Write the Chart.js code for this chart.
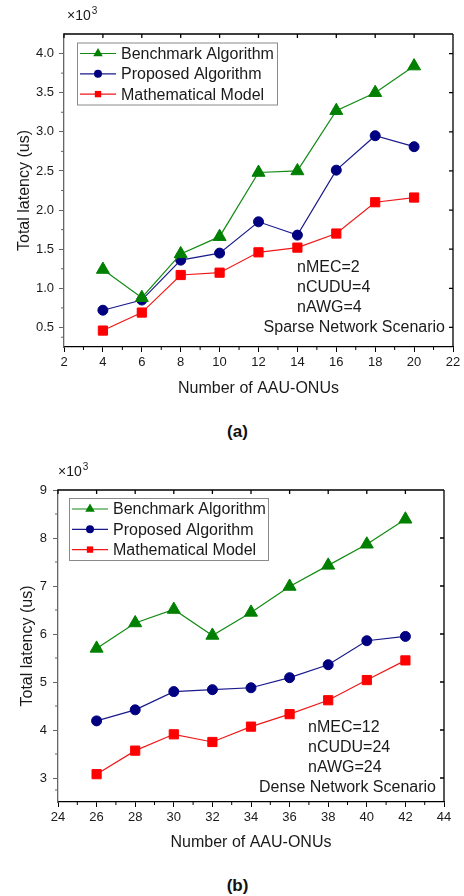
<!DOCTYPE html>
<html lang="en">
<head>
<meta charset="UTF-8">
<title>Total latency vs number of AAU-ONUs</title>
<script src="https://cdn.jsdelivr.net/npm/chart.js"></script>
<style>
  body, html {
    margin: 0;
    padding: 0;
    background: #fff;
    font-family: "Liberation Sans", Arial, sans-serif;
    width: 464px;
    height: 896px;
    overflow: hidden;
  }
  .wrap { position: absolute; left: 0; width: 464px; }
  canvas { display: block; }
  .cap {
    position: absolute;
    left: 0;
    width: 475px;
    text-align: center;
    font-weight: bold;
    font-size: 17px;
    color: #111;
  }
</style>
</head>
<body>
<div class="wrap" style="top:0"><canvas id="chartA" width="464" height="420"></canvas></div>
<div class="cap" style="top:422px">(a)</div>
<div class="wrap" style="top:450px"><canvas id="chartB" width="464" height="420"></canvas></div>
<div class="cap" style="top:876px">(b)</div>

<script>
  // ---- data (latency in units of 10^3 us) ----
  const seriesNames = ['Benchmark Algorithm', 'Proposed Algorithm', 'Mathematical Model'];

  // (a) sparse network
  const onusA = [4, 6, 8, 10, 12, 14, 16, 18, 20];
  const benchA = [1.24, 0.88, 1.44, 1.66, 2.48, 2.50, 3.27, 3.50, 3.84];
  const propA = [0.72, 0.85, 1.36, 1.45, 1.85, 1.68, 2.51, 2.95, 2.81];
  const mathA = [0.46, 0.69, 1.17, 1.20, 1.46, 1.52, 1.70, 2.10, 2.16];
  const xTicksA = [2, 4, 6, 8, 10, 12, 14, 16, 18, 20, 22];
  const yTicksA = [0.5, 1.0, 1.5, 2.0, 2.5, 3.0, 3.5, 4.0];
  const notesA = ['nMEC=2', 'nCUDU=4', 'nAWG=4', 'Sparse Network Scenario'];

  // (b) dense network
  const onusB = [26, 28, 30, 32, 34, 36, 38, 40, 42];
  const benchB = [5.70, 6.23, 6.51, 5.97, 6.45, 6.99, 7.43, 7.87, 8.39];
  const propB = [4.19, 4.42, 4.80, 4.84, 4.88, 5.09, 5.36, 5.86, 5.95];
  const mathB = [3.08, 3.57, 3.91, 3.75, 4.07, 4.33, 4.62, 5.04, 5.45];
  const xTicksB = [24, 26, 28, 30, 32, 34, 36, 38, 40, 42, 44];
  const yTicksB = [3, 4, 5, 6, 7, 8, 9];
  const notesB = ['nMEC=12', 'nCUDU=24', 'nAWG=24', 'Dense Network Scenario'];

  const styles = [
    { color: '#008000', line: '#128a12', point: 'triangle', r: 7.5, lr: 5.5 },
    { color: '#000080', line: '#1a1a8c', point: 'circle', r: 5, lr: 4 },
    { color: '#ff0000', line: '#f01818', point: 'rect', r: 6.5, lr: 4.5 }
  ];

  const FONT = '"Liberation Sans", Arial, sans-serif';
  const TXT = '#1a1a1a';

  function midpoints(arr) {
    const out = [];
    for (let i = 0; i < arr.length - 1; i++) out.push((arr[i] + arr[i + 1]) / 2);
    return out;
  }

  function marker(ctx, style, x, y, r) {
    ctx.beginPath();
    if (style === 'triangle') {
      ctx.moveTo(x, y - r);
      ctx.lineTo(x + r * 0.866, y + r * 0.5);
      ctx.lineTo(x - r * 0.866, y + r * 0.5);
      ctx.closePath();
    } else if (style === 'circle') {
      ctx.arc(x, y, r, 0, Math.PI * 2);
    } else {
      const s = r * 0.707;
      ctx.rect(x - s, y - s, 2 * s, 2 * s);
    }
    ctx.fill();
  }

  // frame, minor ticks, legend box, notes and x10^3 label
  const framePlugin = {
    id: 'frame',
    afterDraw(chart, args, o) {
      const ctx = chart.ctx;
      const { left, right, top, bottom } = chart.chartArea;
      const xs = chart.scales.x, ys = chart.scales.y;
      ctx.save();

      // top + right axes with inward ticks
      ctx.strokeStyle = '#000';
      ctx.lineWidth = 1.3;
      ctx.beginPath();
      ctx.moveTo(left, top); ctx.lineTo(right, top);
      ctx.moveTo(right, top); ctx.lineTo(right, bottom);
      o.xTicks.forEach(v => {
        const px = xs.getPixelForValue(v);
        ctx.moveTo(px, top); ctx.lineTo(px, top + 4);
      });
      o.yTicks.forEach(v => {
        const py = ys.getPixelForValue(v);
        ctx.moveTo(right, py); ctx.lineTo(right - 4, py);
      });
      ctx.stroke();

      // minor ticks (outward) on bottom and left
      ctx.lineWidth = 1;
      ctx.beginPath();
      midpoints(o.xTicks).forEach(v => {
        const px = xs.getPixelForValue(v);
        ctx.moveTo(px, bottom); ctx.lineTo(px, bottom + 3);
      });
      ctx.stroke();
      ctx.strokeStyle = '#666';
      ctx.beginPath();
      midpoints([o.yMin].concat(o.yTicks)).forEach(v => {
        const py = ys.getPixelForValue(v);
        ctx.moveTo(left, py); ctx.lineTo(left - 3, py);
      });
      ctx.stroke();

      // x10^3
      ctx.fillStyle = TXT;
      ctx.textBaseline = 'middle';
      ctx.textAlign = 'left';
      ctx.font = '14px ' + FONT;
      ctx.fillText('\u00d710', left + o.expDx, top + o.expDy);
      const w = ctx.measureText('\u00d710').width;
      ctx.font = '10px ' + FONT;
      ctx.fillText('3', left + o.expDx + w + 1, top + o.expDy - 5);

      // legend
      const lx = left + o.legDx, ly = top + o.legDy;
      ctx.fillStyle = '#fff';
      ctx.fillRect(lx, ly, o.legW, 62);
      ctx.strokeStyle = '#8a8a8a';
      ctx.lineWidth = 1;
      ctx.strokeRect(lx + 0.5, ly + 0.5, o.legW, 62);
      ctx.font = '16px ' + FONT;
      chart.data.datasets.forEach((ds, i) => {
        const st = styles[i];
        const cy = ly + 11 + i * 20.3;
        ctx.strokeStyle = st.line;
        ctx.lineWidth = 1.2;
        ctx.beginPath();
        ctx.moveTo(lx + 3, cy); ctx.lineTo(lx + 39, cy);
        ctx.stroke();
        ctx.fillStyle = st.color;
        marker(ctx, st.point, lx + 21, cy, st.lr);
        ctx.fillStyle = TXT;
        ctx.fillText(ds.label, lx + 44, cy + 1);
      });

      // scenario notes
      ctx.font = '16px ' + FONT;
      ctx.fillStyle = TXT;
      o.notes.forEach((t, i) => {
        const cy = bottom - o.noteBottom + i * 19.8;
        if (i < o.notes.length - 1) {
          ctx.textAlign = 'left';
          ctx.fillText(t, right - o.noteDx, cy);
        } else {
          ctx.textAlign = 'right';
          ctx.fillText(t, right - 8, cy);
        }
      });
      ctx.restore();
    }
  };

  function makeChart(id, xs, sets, xTicks, yTicks, lim, lay) {
    const ctx = document.getElementById(id).getContext('2d');
    return new Chart(ctx, {
      type: 'line',
      data: {
        datasets: sets.map((vals, i) => ({
          label: seriesNames[i],
          data: xs.map((x, k) => ({ x: x, y: vals[k] })),
          borderColor: styles[i].line,
          backgroundColor: styles[i].color,
          pointBackgroundColor: styles[i].color,
          pointBorderColor: styles[i].color,
          pointStyle: styles[i].point,
          pointRadius: styles[i].r,
          pointHoverRadius: styles[i].r,
          pointBorderWidth: 1,
          borderWidth: 1.2,
          tension: 0,
          fill: false
        }))
      },
      options: {
        responsive: false,
        animation: false,
        devicePixelRatio: 1,
        layout: { padding: { top: lay.top, right: lay.right, left: 0, bottom: 0 } },
        scales: {
          x: {
            type: 'linear',
            min: lim.xMin,
            max: lim.xMax,
            afterBuildTicks: s => { s.ticks = xTicks.map(v => ({ value: v })); },
            afterFit: s => { s.height = lay.xH; },
            border: { color: '#000', width: 1.3 },
            grid: { drawOnChartArea: false, drawTicks: true, tickLength: 5, color: '#000' },
            ticks: { color: TXT, font: { family: FONT, size: 13 }, padding: 3, maxRotation: 0 },
            title: {
              display: true, text: 'Number of AAU-ONUs', color: TXT,
              font: { family: FONT, size: 16 }, padding: { top: 0, bottom: lay.xTitlePad }
            }
          },
          y: {
            type: 'linear',
            min: lim.yMin,
            max: lim.yMax,
            afterBuildTicks: s => { s.ticks = yTicks.map(v => ({ value: v })); },
            afterFit: s => { s.width = lay.yW; },
            border: { color: '#666', width: 1.3 },
            grid: { drawOnChartArea: false, drawTicks: true, tickLength: 5, color: '#666' },
            ticks: {
              color: TXT, font: { family: FONT, size: 13 }, padding: lay.yTickPad,
              callback: v => v.toFixed(lim.dec)
            },
            title: {
              display: true, text: 'Total latency (us)', color: TXT,
              font: { family: FONT, size: 16 }, padding: { top: lay.yTitlePad, bottom: 0 }
            }
          }
        },
        plugins: {
          legend: { display: false },
          tooltip: { enabled: false },
          frame: lay.frame
        }
      },
      plugins: [framePlugin]
    });
  }

  makeChart('chartA', onusA, [benchA, propA, mathA], xTicksA, yTicksA,
    { xMin: 2, xMax: 22, yMin: 0.25, yMax: 4.25, dec: 1 },
    {
      top: 34, right: 11, xH: 73, yW: 64, xTitlePad: 22, yTitlePad: 15, yTickPad: 5,
      frame: {
        xTicks: xTicksA, yTicks: yTicksA, yMin: 0.25, notes: notesA,
        expDx: 3, expDy: -18, legDx: 13, legDy: 8.5, legW: 200,
        noteDx: 156, noteBottom: 79.3
      }
    });

  makeChart('chartB', onusB, [benchB, propB, mathB], xTicksB, yTicksB,
    { xMin: 24, xMax: 44, yMin: 2.5, yMax: 9, dec: 0 },
    {
      top: 40, right: 20, xH: 68, yW: 58, xTitlePad: 18, yTitlePad: 18, yTickPad: 6,
      frame: {
        xTicks: xTicksB, yTicks: yTicksB, yMin: 2.5, notes: notesB,
        expDx: 0, expDy: -18, legDx: 11, legDy: 8, legW: 199,
        noteDx: 136, noteBottom: 74
      }
    });
</script>
</body>
</html>
